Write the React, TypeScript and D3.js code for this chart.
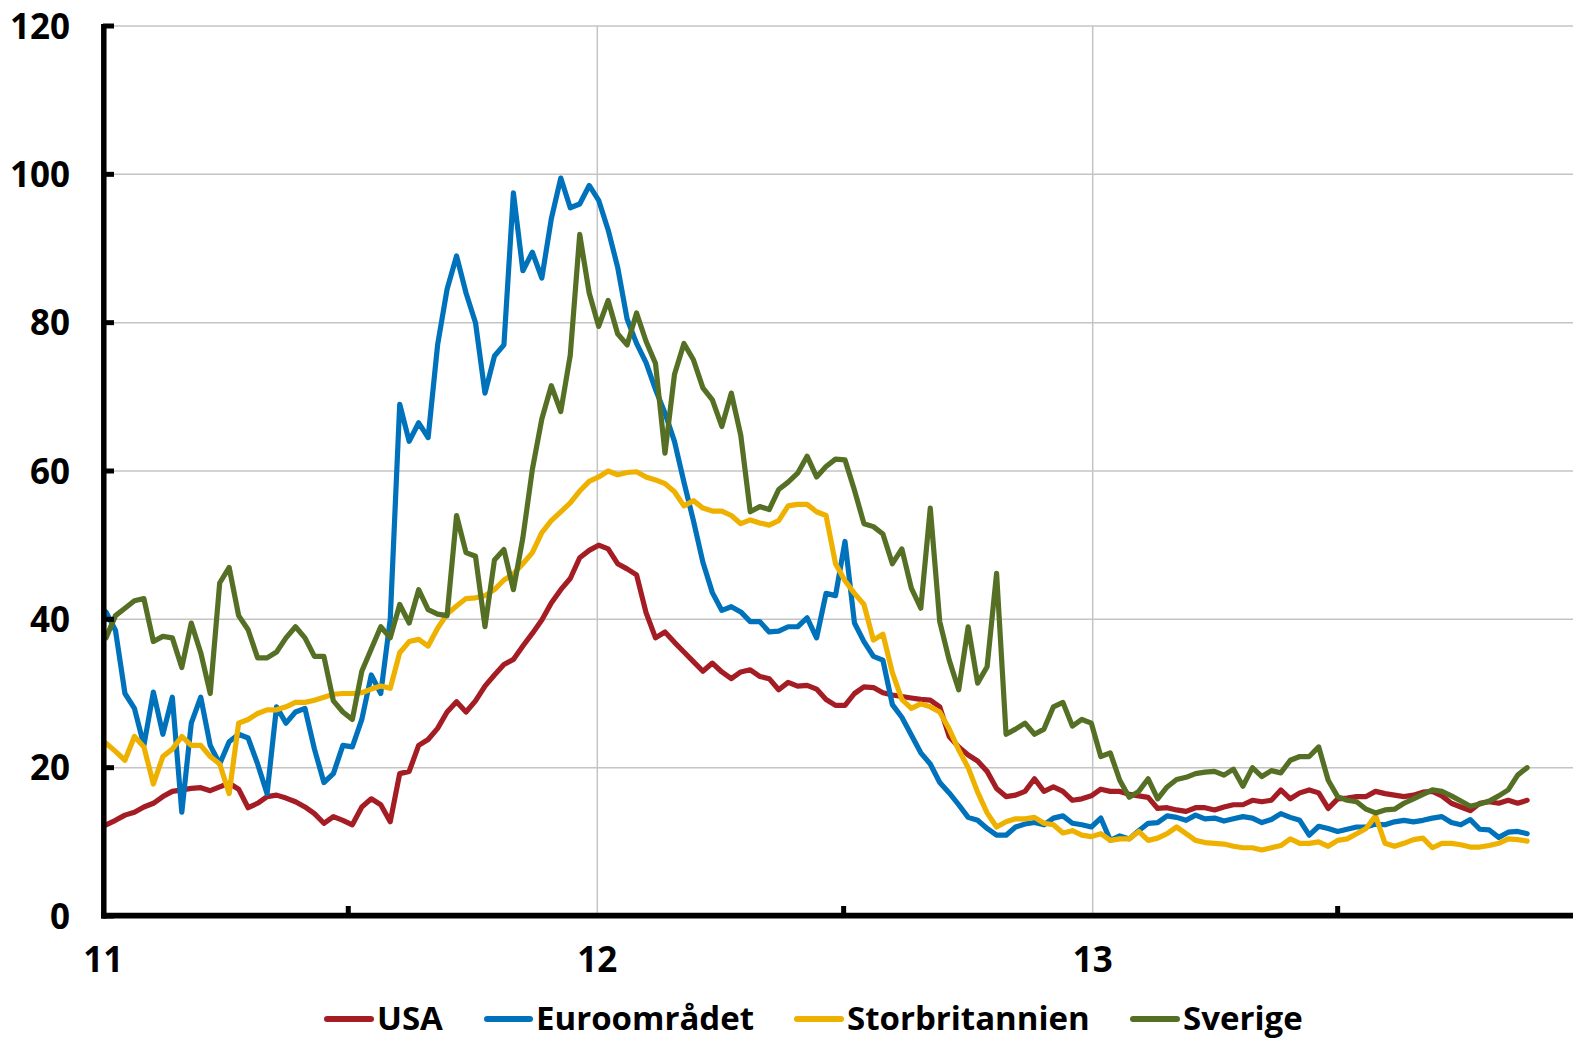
import React from 'react'
import * as d3 from 'd3'

// weekly observations, first week starting 2011-01-03
const firstWeek = new Date(2011, 0, 3)

const usa = [
  12.3, 12.9, 13.6, 14.0, 14.7, 15.2, 16.1, 16.8, 17.0, 17.2, 17.3, 16.9, 17.4, 17.9, 17.1, 14.6, 15.2, 16.1, 16.3, 15.9,
  15.4, 14.7, 13.8, 12.5, 13.4, 12.9, 12.3, 14.7, 15.8, 15.0, 12.7, 19.2, 19.5, 23.0, 23.8, 25.3, 27.5, 28.9, 27.5, 29.0,
  31.0, 32.5, 33.9, 34.6, 36.4, 38.1, 39.9, 42.2, 44.0, 45.5, 48.3, 49.3, 50.0, 49.5, 47.5, 46.8, 46.0, 40.9, 37.5, 38.3,
  36.9, 35.6, 34.3, 33.0, 34.1, 32.9, 32.0, 32.9, 33.2, 32.3, 32.0, 30.5, 31.5, 31.0, 31.1, 30.6, 29.2, 28.4, 28.4, 30.0,
  30.9, 30.8, 30.1, 29.8, 29.6, 29.4, 29.2, 29.1, 28.2, 24.2, 22.8, 21.7, 20.9, 19.5, 17.2, 16.1, 16.3, 16.8, 18.5, 16.8,
  17.4, 16.8, 15.6, 15.8, 16.2, 17.1, 16.8, 16.8, 16.4, 16.2, 16.0, 14.5, 14.6, 14.3, 14.1, 14.6, 14.6, 14.3, 14.7, 15.0,
  15.0, 15.6, 15.4, 15.6, 17.0, 15.8, 16.6, 17.0, 16.6, 14.5, 15.8, 15.9, 16.1, 16.1, 16.8, 16.5, 16.3, 16.1, 16.3, 16.7,
  16.8, 16.2, 15.2, 14.7, 14.2, 15.2, 15.4, 15.2, 15.6, 15.2, 15.6,
]

const euro = [
  41.0, 38.5, 30.0, 28.0, 23.0, 30.2, 24.5, 29.5, 14.0, 26.0, 29.5, 23.0, 20.5, 23.5, 24.5, 24.0, 20.5, 16.5, 28.2, 26.0,
  27.5, 28.0, 22.5, 18.0, 19.2, 23.0, 22.8, 26.5, 32.5, 30.0, 40.0, 69.0, 64.0, 66.5, 64.5, 77.0, 84.5, 89.0, 84.0, 80.0,
  70.5, 75.5, 77.0, 97.5, 87.0, 89.5, 86.0, 94.0, 99.5, 95.5, 96.0, 98.5, 96.5, 92.5, 87.5, 80.5, 77.2, 74.6, 71.0, 67.8,
  64.0, 58.5, 53.3, 47.7, 43.6, 41.2, 41.7, 41.0, 39.7, 39.7, 38.3, 38.4, 39.0, 39.0, 40.2, 37.5, 43.5, 43.2, 50.5, 39.5,
  37.0, 35.0, 34.5, 28.5, 26.8, 24.4, 22.0, 20.5, 18.0, 16.6, 15.0, 13.3, 12.9, 11.8, 10.9, 10.9, 12.0, 12.4, 12.6, 12.3,
  13.2, 13.5, 12.5, 12.3, 12.0, 13.2, 10.2, 10.8, 10.4, 11.5, 12.5, 12.6, 13.5, 13.3, 12.9, 13.6, 13.1, 13.2, 12.8, 13.1,
  13.4, 13.2, 12.6, 13.0, 13.8, 13.3, 12.9, 10.9, 12.1, 11.8, 11.4, 11.7, 12.0, 12.0, 12.4, 12.3, 12.7, 12.9, 12.7, 12.9,
  13.2, 13.4, 12.6, 12.3, 13.0, 11.7, 11.6, 10.6, 11.3, 11.4, 11.1,
]

const uk = [
  23.3, 22.2, 21.0, 24.2, 22.8, 17.8, 21.5, 22.5, 24.2, 23.0, 23.0, 21.5, 20.5, 16.5, 26.0, 26.5, 27.3, 27.8, 27.8, 28.2,
  28.8, 28.8, 29.1, 29.5, 29.9, 30.0, 30.0, 30.1, 30.6, 31.0, 30.7, 35.5, 37.0, 37.3, 36.4, 38.8, 40.7, 41.8, 42.8, 42.9,
  43.2, 44.0, 45.3, 46.1, 47.5, 49.0, 51.7, 53.3, 54.5, 55.7, 57.3, 58.6, 59.2, 60.0, 59.5, 59.8, 59.9, 59.2, 58.8, 58.3,
  57.2, 55.3, 56.0, 55.0, 54.6, 54.6, 54.0, 52.9, 53.4, 53.0, 52.7, 53.3, 55.3, 55.5, 55.5, 54.5, 54.0, 47.5, 45.2, 43.5,
  42.0, 37.2, 38.0, 32.8, 29.2, 28.0, 28.6, 28.2, 27.5, 25.2, 22.4, 20.0, 16.7, 13.9, 12.0, 12.7, 13.1, 13.1, 13.3, 12.5,
  12.3, 11.2, 11.5, 10.9, 10.7, 11.1, 10.2, 10.4, 10.4, 11.4, 10.2, 10.5, 11.1, 12.0, 11.1, 10.2, 9.9, 9.8, 9.7, 9.4,
  9.2, 9.2, 8.9, 9.2, 9.5, 10.4, 9.8, 9.8, 10.0, 9.4, 10.2, 10.4, 11.1, 11.8, 13.5, 9.8, 9.4, 9.8, 10.3, 10.5,
  9.2, 9.8, 9.8, 9.6, 9.3, 9.3, 9.5, 9.8, 10.4, 10.3, 10.1,
]

const sweden = [
  37.5, 40.5, 41.5, 42.5, 42.8, 37.0, 37.7, 37.5, 33.5, 39.5, 35.5, 30.0, 44.9, 47.0, 40.5, 38.6, 34.8, 34.8, 35.6, 37.5,
  39.0, 37.5, 35.0, 35.0, 29.0, 27.5, 26.5, 33.0, 36.0, 39.0, 37.5, 42.0, 39.5, 44.0, 41.3, 40.7, 40.5, 54.0, 49.0, 48.5,
  39.0, 48.0, 49.4, 44.0, 51.0, 60.2, 67.0, 71.5, 68.0, 75.6, 91.9, 84.0, 79.5, 83.0, 78.5, 77.0, 81.3, 77.5, 74.5, 62.4,
  73.0, 77.2, 75.0, 71.2, 69.6, 66.0, 70.5, 64.8, 54.5, 55.2, 54.8, 57.5, 58.5, 59.7, 62.0, 59.2, 60.6, 61.6, 61.5, 57.4,
  52.9, 52.5, 51.5, 47.5, 49.5, 44.2, 41.5, 55.0, 39.7, 34.5, 30.5, 39.0, 31.4, 33.6, 46.2, 24.5, 25.2, 26.0, 24.5, 25.2,
  28.2, 28.8, 25.6, 26.5, 26.0, 21.5, 22.0, 18.3, 16.0, 16.8, 18.5, 15.8, 17.4, 18.4, 18.7, 19.2, 19.4, 19.5, 19.0, 19.8,
  17.5, 20.0, 18.8, 19.6, 19.3, 21.0, 21.5, 21.5, 22.8, 18.3, 16.1, 15.6, 15.4, 14.4, 13.9, 14.3, 14.4, 15.2, 15.8, 16.4,
  17.0, 16.8, 16.2, 15.5, 14.8, 15.1, 15.5, 16.2, 17.0, 19.0, 20.0,
]

const seriesNames = ['USA', 'Euroområdet', 'Storbritannien', 'Sverige']
const seriesColors = ['#a51d24', '#0072bb', '#efb100', '#557025']
const seriesValues = [usa, euro, uk, sweden]

const yTicks = [0, 20, 40, 60, 80, 100, 120]
const yearLabels = ['11', '12', '13']
const years = [2011, 2012, 2013]

// legend placement: [line start, text start]
const legendX = [[327, 377], [487, 536], [797, 847], [1133, 1183]]

const FONT = '"Open Sans", "DejaVu Sans", sans-serif'

export default function App() {
  const width = 1573
  const height = 1040

  const x = d3.scaleTime()
    .domain([new Date(2011, 0, 1), new Date(2014, 0, 1)])
    .range([103.3, 1586.7])
  const y = d3.scaleLinear().domain([0, 120]).range([916, 26])

  const dates = usa.map((_, i) => d3.timeWeek.offset(firstWeek, i))

  const line = d3.line<number>()
    .x((_, i) => x(dates[i]))
    .y(d => y(d))

  const halfYears = years.map(yr => new Date(yr, 6, 1))

  return (
    <svg
      width={width}
      height={height}
      style={{ position: 'absolute', left: 0, top: 0, background: '#fff' }}
      fontFamily={FONT}
      fontWeight="bold"
    >
      {/* horizontal grid */}
      {yTicks.filter(t => t > 0).map(t => (
        <line key={'gy' + t} x1={107} x2={width} y1={y(t)} y2={y(t)} stroke="#c4c4c4" strokeWidth={1.5} />
      ))}
      {/* vertical grid at year starts */}
      {years.slice(1).map(yr => (
        <line key={'gx' + yr} x1={x(new Date(yr, 0, 1))} x2={x(new Date(yr, 0, 1))} y1={y(120)} y2={y(0)} stroke="#c4c4c4" strokeWidth={1.5} />
      ))}

      {/* series */}
      {seriesValues.map((vals, k) => (
        <path
          key={seriesNames[k]}
          d={line(vals) || ''}
          fill="none"
          stroke={seriesColors[k]}
          strokeWidth={5.2}
          strokeLinejoin="round"
          strokeLinecap="round"
        />
      ))}

      {/* axes */}
      <line x1={103.8} x2={103.8} y1={24} y2={918.5} stroke="#000" strokeWidth={5.5} />
      {yTicks.map(t => (
        <line key={'ty' + t} x1={103} x2={114} y1={y(t)} y2={y(t)} stroke="#000" strokeWidth={5} />
      ))}
      <line x1={101} x2={width} y1={915.6} y2={915.6} stroke="#000" strokeWidth={5.6} />
      {halfYears.map(d => (
        <line key={'tx' + d.getFullYear()} x1={x(d)} x2={x(d)} y1={906} y2={916} stroke="#000" strokeWidth={5} />
      ))}

      {/* y labels */}
      {yTicks.map(t => (
        <text key={'ly' + t} x={70} y={y(t) + 12.5} textAnchor="end" fontSize={35} fill="#000">{t}</text>
      ))}
      {/* x labels */}
      {years.map((yr, i) => (
        <text key={'lx' + yr} x={x(new Date(yr, 0, 1))} y={971.5} textAnchor="middle" fontSize={35} fill="#000">
          {yearLabels[i]}
        </text>
      ))}

      {/* legend */}
      {seriesNames.map((name, k) => (
        <g key={'leg' + name}>
          <line x1={legendX[k][0]} x2={legendX[k][1] - 6} y1={1019} y2={1019} stroke={seriesColors[k]} strokeWidth={6} strokeLinecap="round" />
          <text x={legendX[k][1]} y={1030} fontSize={33} fill="#000">{name}</text>
        </g>
      ))}
    </svg>
  )
}
